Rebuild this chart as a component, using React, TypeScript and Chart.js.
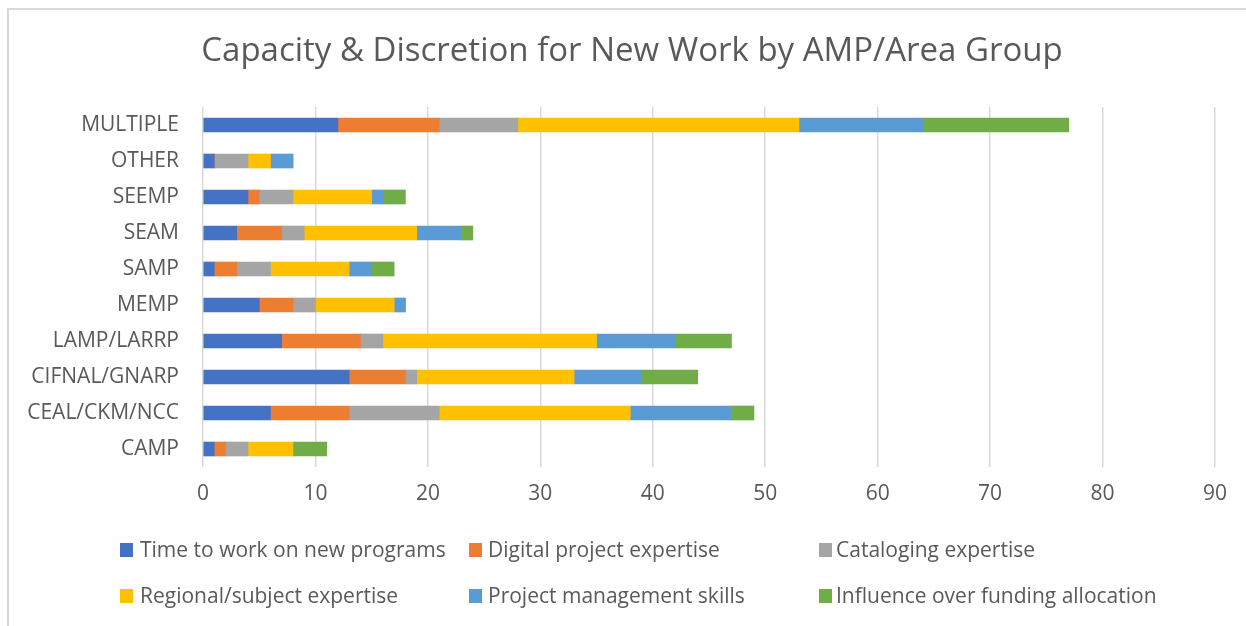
import { useEffect, useRef } from "react";
import { Chart, registerables } from "chart.js";

Chart.register(...registerables);

const categories = [
  "MULTIPLE",
  "OTHER",
  "SEEMP",
  "SEAM",
  "SAMP",
  "MEMP",
  "LAMP/LARRP",
  "CIFNAL/GNARP",
  "CEAL/CKM/NCC",
  "CAMP",
];
const timeNewPrograms = [12, 1, 4, 3, 1, 5, 7, 13, 6, 1];
const digitalExpertise = [9, 0, 1, 4, 2, 3, 7, 5, 7, 1];
const catalogingExpertise = [7, 3, 3, 2, 3, 2, 2, 1, 8, 2];
const regionalExpertise = [25, 2, 7, 10, 7, 7, 19, 14, 17, 4];
const projectManagement = [11, 2, 1, 4, 2, 1, 7, 6, 9, 0];
const fundingInfluence = [13, 0, 2, 1, 2, 0, 5, 5, 2, 3];

const seriesNames = [
  "Time to work on new programs",
  "Digital project expertise",
  "Cataloging expertise",
  "Regional/subject expertise",
  "Project management skills",
  "Influence over funding allocation",
];
const seriesValues = [
  timeNewPrograms,
  digitalExpertise,
  catalogingExpertise,
  regionalExpertise,
  projectManagement,
  fundingInfluence,
];
const seriesColors = ["#4472C4", "#ED7D31", "#A5A5A5", "#FFC000", "#5B9BD5", "#70AD47"];

const titleText = "Capacity & Discretion for New Work by AMP/Area Group";
const xMin = 0;
const xMax = 90;
const xStep = 10;

const FONT = "'Open Sans', 'Liberation Sans', sans-serif";
const TEXT_COLOR = "#595959";

const titlePlugin = {
  id: "centeredTitle",
  afterDraw(chart: any) {
    const ctx = chart.ctx;
    ctx.save();
    ctx.font = `33px ${FONT}`;
    ctx.fillStyle = TEXT_COLOR;
    ctx.textAlign = "center";
    ctx.textBaseline = "middle";
    ctx.fillText(titleText, 632, 52);
    ctx.restore();
  },
};

const legendPlugin = {
  id: "gridLegend",
  afterDraw(chart: any) {
    const ctx = chart.ctx;
    const colX = [120, 469, 819];
    const textX = [140, 488, 836];
    const rowY = [550, 596];
    ctx.save();
    ctx.font = `21px ${FONT}`;
    ctx.textBaseline = "middle";
    ctx.textAlign = "left";
    chart.data.datasets.forEach((ds: any, i: number) => {
      const col = i % 3;
      const y = rowY[Math.floor(i / 3)];
      ctx.fillStyle = ds.backgroundColor;
      ctx.fillRect(colX[col], y - 7, 13, 14);
      ctx.fillStyle = TEXT_COLOR;
      ctx.fillText(ds.label, textX[col], y + 1);
    });
    ctx.restore();
  },
};

export default function App() {
  const canvasRef = useRef<HTMLCanvasElement | null>(null);

  useEffect(() => {
    document.body.style.margin = "0";
    const canvas = canvasRef.current;
    if (!canvas) return;
    const chart = new Chart(canvas, {
      type: "bar",
      data: {
        labels: categories,
        datasets: seriesNames.map((name, i) => ({
          label: name,
          data: seriesValues[i],
          backgroundColor: seriesColors[i],
          borderWidth: 0,
          barThickness: 14,
        })),
      },
      options: {
        indexAxis: "y",
        responsive: false,
        animation: false,
        layout: { padding: { left: 0, right: 31, top: 107, bottom: 109 } },
        plugins: {
          legend: { display: false },
          tooltip: { enabled: false },
          title: { display: false },
        },
        scales: {
          x: {
            stacked: true,
            min: xMin,
            max: xMax,
            ticks: {
              stepSize: xStep,
              color: TEXT_COLOR,
              font: { family: FONT, size: 21 },
              padding: 14,
            },
            grid: { color: "#D9D9D9", lineWidth: 1.5, drawTicks: false },
            border: { display: false },
            afterFit(scale: any) {
              scale.height = 50;
            },
          },
          y: {
            stacked: true,
            ticks: {
              color: TEXT_COLOR,
              font: { family: FONT, size: 21 },
              padding: 24,
            },
            grid: { display: false, drawTicks: false },
            border: { display: false },
            afterFit(scale: any) {
              scale.width = 203;
            },
          },
        },
      },
      plugins: [titlePlugin, legendPlugin],
    });
    return () => chart.destroy();
  }, []);

  return (
    <div
      style={{
        position: "relative",
        width: 1246,
        height: 626,
        overflow: "hidden",
        background: "#fff",
      }}
    >
      <div
        style={{
          position: "absolute",
          left: 7,
          top: 8,
          width: 1400,
          height: 800,
          border: "2px solid #D9D9D9",
          boxSizing: "border-box",
        }}
      />
      <canvas
        ref={canvasRef}
        width={1246}
        height={626}
        style={{ position: "absolute", left: 0, top: 0, display: "block" }}
      />
    </div>
  );
}
